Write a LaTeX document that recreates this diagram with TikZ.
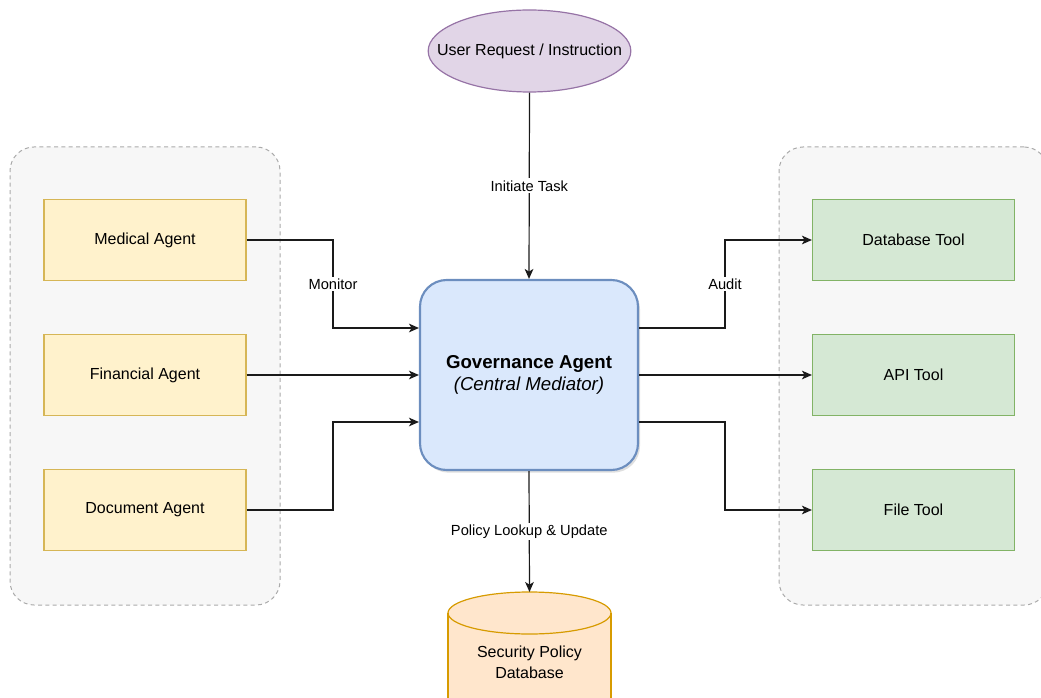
\documentclass[tikz,border=0pt]{standalone}
\usepackage{fontspec}
\setmainfont{Liberation Sans}
\usetikzlibrary{arrows.meta,shadows,positioning,shapes.geometric}
\definecolor{yfill}{HTML}{FFF2CC}\definecolor{ydraw}{HTML}{D6B656}
\definecolor{gfill}{HTML}{D5E8D4}\definecolor{gdraw}{HTML}{82B366}
\definecolor{bfill}{HTML}{DAE8FC}\definecolor{bdraw}{HTML}{6C8EBF}
\definecolor{pfill}{HTML}{E1D5E7}\definecolor{pdraw}{HTML}{9673A6}
\definecolor{ofill}{HTML}{FFE6CC}\definecolor{odraw}{HTML}{D79B00}
\definecolor{grpfill}{HTML}{F7F7F7}\definecolor{grpdraw}{HTML}{ABABAB}
\definecolor{linec}{HTML}{1A1A1A}
\tikzset{
  grp/.style={draw=grpdraw, fill=grpfill, line width=0.75pt, dash pattern=on 3pt off 2.5pt, rounded corners=18pt, minimum width=#1, minimum height=343.5pt, inner sep=0pt},
  agentbox/.style={draw=ydraw, fill=yfill, line width=0.9pt, minimum width=151.5pt, minimum height=60.75pt, inner sep=0pt, font=\fontsize{12pt}{14pt}\selectfont},
  toolbox/.style={draw=gdraw, fill=gfill, line width=0.9pt, minimum width=151.5pt, minimum height=60.75pt, inner sep=0pt, font=\fontsize{12pt}{14pt}\selectfont},
  govbox/.style={draw=bdraw, fill=bfill, line width=1.6pt, rounded corners=20pt, minimum width=163.5pt, minimum height=142.5pt, inner sep=0pt, align=center, font=\fontsize{14pt}{16pt}\selectfont, drop shadow={shadow xshift=1.5pt, shadow yshift=-2pt, opacity=0.25}},
  conn/.style={draw=linec, line width=0.9pt, -{Stealth[length=7.5pt, width=6.5pt, inset=2pt]}},
  lbl/.style={fill=white, inner sep=1.5pt, font=\fontsize{11pt}{13pt}\selectfont, text=black},
}
\begin{document}
\begin{tikzpicture}[x=0.75pt, y=-0.75pt]
\useasboundingbox (0,0) rectangle (1041,698);
\begin{scope}
\clip (0,0) rectangle (1041,698);
% groups
\node[grp=202.5pt] (lgrp) at (145,376) {};
\node[grp=201.75pt] (rgrp) at (913.5,376) {};
% cylinder
\coordinate (dbtop) at (529.5,592);
\fill[ofill] (448,613) -- (448,720) -- (611,720) -- (611,613) -- cycle;
\draw[odraw, line width=0.9pt, fill=ofill] (529.5,613) ellipse [x radius=81.5, y radius=21];
\draw[odraw, line width=0.9pt] (448,613) -- (448,720) (611,613) -- (611,720);
\node[align=center, font=\fontsize{12pt}{15.5pt}\selectfont] (db) at (529.5,662) {Security Policy\\Database};
\end{scope}
% user
\node[draw=pdraw, fill=pfill, line width=0.9pt, ellipse, minimum width=152pt, minimum height=61.5pt, inner xsep=-16.5pt, inner ysep=0pt, font=\fontsize{12pt}{14pt}\selectfont] (user) at (529.5,51) {User Request / Instruction};
% agents
\node[agentbox] (med) at (145,240) {Medical Agent};
\node[agentbox] (fin) at (145,375) {Financial Agent};
\node[agentbox] (doc) at (145,510) {Document Agent};
% tools
\node[toolbox] (dbt) at (913.5,240) {Database Tool};
\node[toolbox] (api) at (913.5,375) {API Tool};
\node[toolbox] (file) at (913.5,510) {File Tool};
% governance
\node[govbox] (gov) at (529,375) {\textbf{Governance Agent}\\[1pt]\textit{(Central Mediator)}};
% connectors
\draw[conn] (user.south) -- node[lbl, pos=0.5] {Initiate Task} (gov.north);
\draw[conn] (med.east) -- (333,240) -- node[lbl, pos=0.5] {Monitor} (333,328) -- (gov.west |- 0,328);
\draw[conn] (fin.east) -- (gov.west |- fin.east);
\draw[conn] (doc.east) -- (333,510) -- (333,422) -- (gov.west |- 0,422);
\draw[conn] (gov.east |- 0,328) -- (725,328) -- node[lbl, pos=0.5] {Audit} (725,240) -- (dbt.west);
\draw[conn] (gov.east |- api.west) -- (api.west);
\draw[conn] (gov.east |- 0,422) -- (725,422) -- (725,510) -- (file.west);
\draw[conn] (gov.south) -- node[lbl, pos=0.5] {Policy Lookup \& Update} (dbtop);
\end{tikzpicture}
\end{document}
